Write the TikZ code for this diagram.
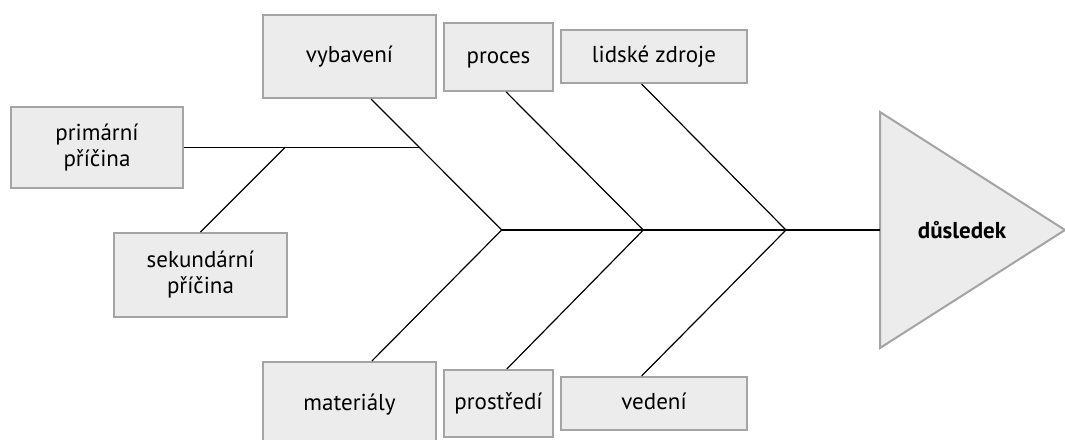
\documentclass[tikz,border=0pt]{standalone}
\usepackage{fontspec}
\setmainfont{PT Sans}
\usetikzlibrary{calc}
\definecolor{boxfill}{HTML}{ECECEC}
\definecolor{boxline}{HTML}{A4A4A4}
\begin{document}
\begin{tikzpicture}[x=1pt,y=-1pt,
  cause/.style={draw=boxline, fill=boxfill, line width=2pt, inner sep=0pt,
    font=\fontsize{23}{26}\selectfont, align=center},
  oneline/.style={cause, text height=17pt, text depth=5pt},
  bone/.style={draw=black, line width=1.2pt}]
\useasboundingbox (0,0) rectangle (1065,439);
\clip (0,0) rectangle (1065,439);

% cause boxes
\node[oneline, minimum width=173pt, minimum height=83pt] (vyb)  at (349.5,56.5) {vybavení};
\node[oneline, minimum width=109pt, minimum height=68pt] (proc) at (498.5,57)   {proces};
\node[oneline, minimum width=186pt, minimum height=53pt] (lid)  at (654,56.5)   {lidské zdroje};
\node[cause,   minimum width=172pt, minimum height=81pt] (prim) at (97,147.5)   {primární\\příčina};
\node[cause,   minimum width=173pt, minimum height=84pt] (sek)  at (200.5,275)  {sekundární\\příčina};
\node[oneline, minimum width=173pt, minimum height=84pt] (mat)  at (349.5,404)  {materiály};
\node[oneline, minimum width=109pt, minimum height=67pt] (pros) at (498.5,403.5) {prostředí};
\node[oneline, minimum width=186pt, minimum height=53pt] (ved)  at (654,403.5)  {vedení};

% effect triangle
\coordinate (tA) at (880,112);
\coordinate (tB) at (1065,230);
\coordinate (tC) at (880,348);
\coordinate (tri) at (880,230);
\draw[draw=boxline, fill=boxfill, line width=2pt, line join=miter] (tA) -- (tB) -- (tC) -- cycle;
\node[font=\fontsize{23}{26}\selectfont\bfseries] (eff) at (962,230) {důsledek};

% spine vertices
\coordinate (c1) at (501.7,230);
\coordinate (c2) at (643.3,230);
\coordinate (c3) at (786,230);

% spine
\draw[bone] (c1) -- (tri);

% bones
\draw[bone] ($(vyb.south west)!0.623!(vyb.south east)$) -- (c1) -- ($(mat.north west)!0.628!(mat.north east)$);
\draw[bone] ($(proc.south west)!0.569!(proc.south east)$) -- (c2) -- ($(pros.north west)!0.575!(pros.north east)$);
\draw[bone] ($(lid.south west)!0.434!(lid.south east)$) -- (c3) -- ($(ved.north west)!0.434!(ved.north east)$);

% sub-causes
\coordinate (j1) at (419.6,147.5);
\coordinate (j2) at (285,147.5);
\draw[bone] (prim.east) -- (j1);
\draw[bone] (j2) -- (sek.north);
\end{tikzpicture}
\end{document}
